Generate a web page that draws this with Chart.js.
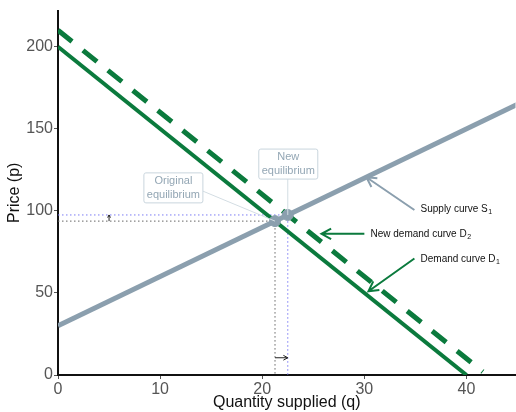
<!DOCTYPE html>
<html>
<head>
<meta charset="utf-8">
<script src="https://cdn.jsdelivr.net/npm/chart.js@4"></script>
<style>
  body { margin: 0; background: #fff; overflow: hidden; }
</style>
</head>
<body>
<canvas id="supplyChart" width="522" height="412"></canvas>
<script>
// data
const xTicks = [0, 10, 20, 30, 40];
const yTicks = [0, 50, 100, 150, 200];
const supplyS1 = [{x: 0, y: 30}, {x: 45, y: 165}];
const demandD1 = [{x: 0, y: 200}, {x: 40, y: 0}];
const demandD2 = [{x: 0, y: 210}, {x: 41.6, y: 2}];
const oldEq = {x: 21.25, y: 93.75};
const newEq = {x: 22.5, y: 97.5};
const eqPoints = [oldEq, newEq];

const green = "#0b7a3d";
const steel = "#8b9fae";
const dotGrey = "#666";
const dotBlue = "#7b7bf5";
const font = "'Liberation Sans', Arial, sans-serif";

// dotted guides to the two equilibria
const oldGuide = [{x: 0, y: oldEq.y}, {x: oldEq.x, y: oldEq.y}, {x: oldEq.x, y: 0}];
const newGuide = [{x: 0, y: newEq.y}, {x: newEq.x, y: newEq.y}, {x: newEq.x, y: 0}];

function drawArrow(ctx, x1, y1, x2, y2, head, color, width) {
    ctx.save();
    ctx.strokeStyle = color;
    ctx.lineWidth = width;
    ctx.beginPath();
    ctx.moveTo(x1, y1);
    ctx.lineTo(x2, y2);
    let a = Math.atan2(y2 - y1, x2 - x1);
    ctx.moveTo(x2 - head * Math.cos(a - 0.5), y2 - head * Math.sin(a - 0.5));
    ctx.lineTo(x2, y2);
    ctx.lineTo(x2 - head * Math.cos(a + 0.5), y2 - head * Math.sin(a + 0.5));
    ctx.stroke();
    ctx.restore();
}

function drawSubLabel(ctx, x, y, main, sub) {
    ctx.font = "10px " + font;
    ctx.fillStyle = "#111";
    ctx.textBaseline = "middle";
    ctx.textAlign = "left";
    ctx.fillText(main, x, y);
    let w = ctx.measureText(main).width;
    ctx.font = "7px " + font;
    ctx.fillText(sub, x + w + 0.5, y + 3);
}

function drawBox(ctx, cx, cy, lines) {
    let w = 59, h = 30;
    ctx.save();
    ctx.fillStyle = "#fff";
    ctx.strokeStyle = "#c9d5dd";
    ctx.lineWidth = 1;
    ctx.beginPath();
    ctx.roundRect(cx - w / 2, cy - h / 2, w, h, 2);
    ctx.fill();
    ctx.stroke();
    ctx.fillStyle = "#93a6b4";
    ctx.font = "11px " + font;
    ctx.textAlign = "center";
    ctx.textBaseline = "middle";
    ctx.fillText(lines[0], cx, cy - 7);
    ctx.fillText(lines[1], cx, cy + 7);
    ctx.restore();
}

const notes = {
    id: "notes",
    afterDatasetsDraw(chart) {
        const ctx = chart.ctx;
        const sx = chart.scales.x, sy = chart.scales.y;
        const px = v => sx.getPixelForValue(v);
        const py = v => sy.getPixelForValue(v);

        // callout lines to the points
        ctx.save();
        ctx.strokeStyle = "#d3dde3";
        ctx.lineWidth = 1;
        ctx.beginPath();
        ctx.moveTo(px(14.2), py(112));
        ctx.lineTo(px(oldEq.x), py(oldEq.y));
        ctx.moveTo(px(newEq.x), py(119.5));
        ctx.lineTo(px(newEq.x), py(newEq.y));
        ctx.stroke();
        ctx.restore();

        drawBox(ctx, px(11.3), py(114), ["Original", "equilibrium"]);
        drawBox(ctx, px(22.55), py(128.5), ["New", "equilibrium"]);

        // small shift arrows
        drawArrow(ctx, px(5), py(oldEq.y), px(5), py(newEq.y), 3, "#222", 1);
        drawArrow(ctx, px(oldEq.x), py(10.5), px(newEq.x), py(10.5), 5, "#222", 1);

        // curve labels
        drawArrow(ctx, px(34.9), py(100.5), px(30.2), py(120.5), 11, steel, 2);
        drawSubLabel(ctx, px(35.5), py(101), "Supply curve S", "1");
        drawArrow(ctx, px(30), py(86), px(25.8), py(86), 11, green, 2);
        drawSubLabel(ctx, px(30.6), py(86), "New demand curve D", "2");
        drawArrow(ctx, px(34.9), py(71), px(30.4), py(51), 11, green, 2);
        drawSubLabel(ctx, px(35.5), py(70.5), "Demand curve D", "1");
    }
};

const ctx = document.getElementById("supplyChart");
new Chart(ctx, {
    type: "scatter",
    data: {
        datasets: [
            {data: eqPoints, showLine: false, pointRadius: 5.5, pointBackgroundColor: steel, pointBorderColor: steel, order: 0},
            {data: supplyS1, showLine: true, borderColor: steel, borderWidth: 5, pointRadius: 0, order: 1},
            {data: demandD1, showLine: true, borderColor: green, borderWidth: 4, pointRadius: 0, order: 2},
            {data: demandD2, showLine: true, borderColor: green, borderWidth: 5, borderDash: [18, 14], pointRadius: 0, order: 3},
            {data: oldGuide, showLine: true, borderColor: dotGrey, borderWidth: 1, borderDash: [1.5, 2.5], pointRadius: 0, order: 4},
            {data: newGuide, showLine: true, borderColor: dotBlue, borderWidth: 1, borderDash: [1.5, 2.5], pointRadius: 0, order: 5}
        ]
    },
    options: {
        responsive: false,
        animation: false,
        layout: {padding: {top: 8, right: 0, left: 0, bottom: 0}},
        plugins: {legend: {display: false}, tooltip: {enabled: false}},
        scales: {
            x: {
                type: "linear",
                min: 0,
                max: 44.8,
                afterBuildTicks: s => { s.ticks = xTicks.map(v => ({value: v})); },
                afterFit: s => { s.height = 37; },
                grid: {drawOnChartArea: false, drawTicks: true, tickLength: 4, color: "#555"},
                border: {color: "#111", width: 2},
                ticks: {color: "#555", padding: 1, font: {size: 16, family: font}},
                title: {display: true, text: "Quantity supplied (q)", color: "#111", padding: 0, font: {size: 16, family: font}}
            },
            y: {
                type: "linear",
                min: 0,
                max: 222,
                afterBuildTicks: s => { s.ticks = yTicks.map(v => ({value: v})); },
                afterFit: s => { s.width = 58; },
                grid: {drawOnChartArea: false, drawTicks: true, tickLength: 4, color: "#555"},
                border: {color: "#111", width: 2},
                ticks: {color: "#555", padding: 1, font: {size: 16, family: font}},
                title: {display: true, text: "Price (p)", color: "#111", padding: {top: 5, bottom: 0}, font: {size: 16, family: font}}
            }
        }
    },
    plugins: [notes]
});
</script>
</body>
</html>
